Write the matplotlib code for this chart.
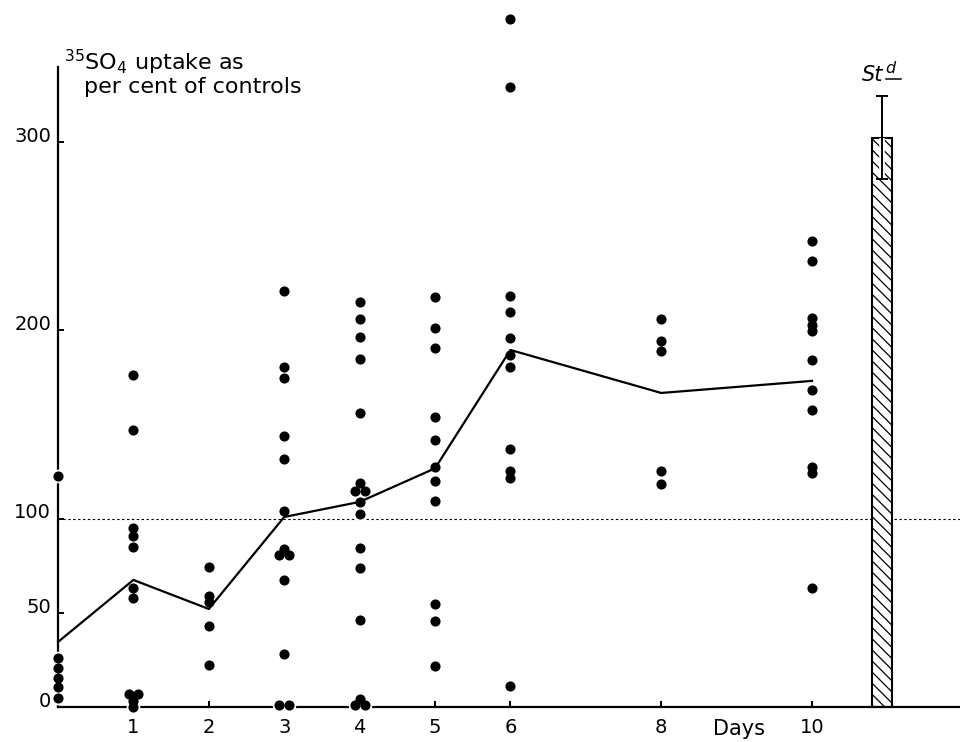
import matplotlib.pyplot as plt
import matplotlib.transforms as mtransforms

# mean uptake per sampling day
days = [0, 1, 2, 3, 4, 5, 6, 8, 10]
mean_uptake = [34.5, 67.4, 52.0, 100.8, 108.8, 126.6, 189.4, 166.6, 173.0]

# individual values per day, with a small sideways shift for dots that touch
day0 = [122.5, 25.8, 20.8, 15.5, 10.8, 4.9]
day1 = [176.0, 147.0, 94.8, 90.7, 85.0, 63.0, 58.0, 7.0, 7.0, 3.0, 0.2]
day1_shift = [0, 0, 0, 0, 0, 0, 0, -0.06, 0.06, 0, 0]
day2 = [74.3, 58.9, 55.7, 43.0, 22.3]
day3 = [220.7, 180.4, 174.5, 143.8, 131.6, 104.0, 83.7, 80.6, 80.6, 67.4, 28.0, 1.0, 1.0]
day3_shift = [0, 0, 0, 0, 0, 0, 0, -0.065, 0.065, 0, 0, -0.065, 0.065]
day4 = [214.7, 205.8, 196.4, 184.4, 155.8, 118.7, 114.8, 114.8, 108.6, 102.2,
        84.2, 73.6, 46.2, 4.4, 1.0, 1.0]
day4_shift = [0, 0, 0, 0, 0, 0, -0.065, 0.065, 0, 0, 0, 0, 0, 0, -0.065, 0.065]
day5 = [217.7, 201.2, 190.6, 154.0, 141.6, 127.5, 120.1, 109.3, 54.8, 45.4, 21.9]
day6 = [365.0, 328.9, 218.2, 209.7, 195.6, 186.7, 180.5, 136.9, 125.4, 121.3, 11.3]
day8 = [205.8, 194.2, 188.9, 125.2, 118.3]
day10 = [247.2, 236.6, 206.4, 202.7, 199.5, 184.1, 168.2, 157.6, 127.3, 124.1, 63.1]

# standard
std_x = 10.93
std_mean = 302.0
std_err = 22.0

plt.rcParams['font.family'] = 'DejaVu Sans'
plt.rcParams['hatch.linewidth'] = 0.9

fig = plt.figure(figsize=(9.6, 7.42), dpi=100)
ax = fig.add_axes([58 / 960, 35 / 742, 902 / 960, 707 / 742])

groups = [
    (0, day0, None), (1, day1, day1_shift), (2, day2, None),
    (3, day3, day3_shift), (4, day4, day4_shift), (5, day5, None),
    (6, day6, None), (8, day8, None), (10, day10, None),
]
for d, vals, shift in groups:
    if shift is None:
        shift = [0] * len(vals)
    xs = [d + s for s in shift]
    # white halo so the axes and line break around each dot
    ax.plot(xs, vals, 'o', color='white', ms=9.8, mew=0, zorder=3, clip_on=False)
    ax.plot(xs, vals, 'o', color='black', ms=7.3, mew=0, zorder=5, clip_on=False)

ax.plot(days, mean_uptake, color='black', lw=1.6, zorder=4, clip_on=False)

# control level
ax.axhline(100, color='black', lw=0.8, linestyle=(0, (2.2, 2.2)), zorder=1)

# standard bar with its error bar
ax.bar(std_x, std_mean, width=0.265, color='white', edgecolor='black',
       hatch='\\\\\\', linewidth=1.5, zorder=2)
ax.plot([std_x, std_x], [std_mean - std_err, std_mean], color='white', lw=4,
        zorder=2.6, solid_capstyle='butt')
ax.errorbar([std_x], [std_mean], yerr=[[std_err], [std_err]], fmt='none',
            ecolor='black', elinewidth=1.4, capsize=4, capthick=1.4, zorder=2.7)

top = std_mean + std_err
ax.annotate('St', xy=(std_x, top), xytext=(0.5, 11), textcoords='offset points',
            ha='right', va='baseline', fontsize=15, style='italic',
            annotation_clip=False)
ax.annotate('d', xy=(std_x, top), xytext=(2.5, 16.5), textcoords='offset points',
            ha='left', va='baseline', fontsize=11.5, style='italic',
            annotation_clip=False)
under = ax.transData + mtransforms.ScaledTranslation(4 / 100, 17 / 100, fig.dpi_scale_trans)
ax.plot([std_x, std_x + 0.2], [top, top], color='black', lw=1.1,
        transform=under, clip_on=False)

ax.set_xlim(0, 902 / 75.4)
ax.set_ylim(0, 707 / 1.885)

for side in ['top', 'right']:
    ax.spines[side].set_visible(False)
ax.spines['left'].set_bounds(0, 339.5)
ax.spines['left'].set_linewidth(1.6)
ax.spines['bottom'].set_linewidth(1.6)

ax.set_xticks([1, 2, 3, 4, 5, 6, 8, 10])
ax.set_xticklabels(['1', '2', '3', '4', '5', '6', '8', '10'])
ax.set_yticks([0, 50, 100, 200, 300])
ax.set_yticklabels(['0', '50', '100', '200', '300'])
ax.tick_params(axis='both', direction='in', length=4.5, width=1.4, labelsize=14)
ax.tick_params(axis='x', pad=8)
ax.tick_params(axis='y', pad=5)
for lab in ax.get_yticklabels():
    lab.set_verticalalignment('baseline')

ax.annotate('Days', xy=(9.03, 0), xycoords=('data', 'axes fraction'),
            xytext=(0, -15.8), textcoords='offset points', ha='center', va='center',
            fontsize=15, annotation_clip=False)

fig.text(64 / 960, 1 - 70 / 742, r'$^{35}$SO$_4$ uptake as', fontsize=16,
         ha='left', va='baseline')
fig.text(84 / 960, 1 - 93 / 742, 'per cent of controls', fontsize=16,
         ha='left', va='baseline')

fig.savefig('out.png', dpi=100, facecolor='white')
